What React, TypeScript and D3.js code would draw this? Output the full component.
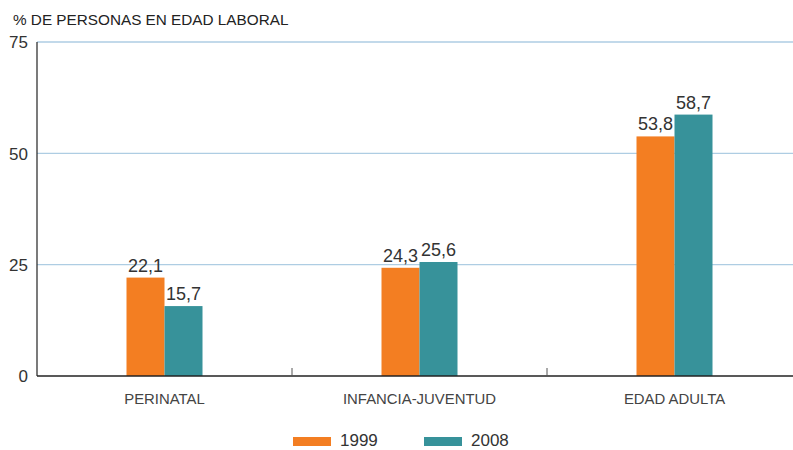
import React, { useEffect, useRef } from "react";
import * as d3 from "d3";

const categories = ["PERINATAL", "INFANCIA-JUVENTUD", "EDAD ADULTA"];
const years = ["1999", "2008"];
const values1999 = [22.1, 24.3, 53.8];
const values2008 = [15.7, 25.6, 58.7];
const yTicks = [0, 25, 50, 75];
const colors = ["#f37e22", "#37929a"];

const W = 793;
const H = 450;
const margin = { top: 42, right: -9, bottom: 74, left: 37 };

const App = () => {
  const ref = useRef<SVGSVGElement>(null);

  useEffect(() => {
    const svg = d3.select(ref.current);
    svg.selectAll("*").remove();
    const font = "'Liberation Sans', Arial, sans-serif";
    const innerH = H - margin.top - margin.bottom;

    const x = d3.scaleBand().domain(categories).range([margin.left, W - margin.right]);
    const inner = d3.scaleBand().domain(years).range([0, 76]);
    const y = d3.scaleLinear().domain([0, 75]).range([margin.top + innerH, margin.top]);

    svg.append("text")
      .attr("x", 13).attr("y", 25)
      .attr("font-family", font).attr("font-size", 15.3)
      .attr("fill", "#222")
      .text("% DE PERSONAS EN EDAD LABORAL");

    // gridlines
    svg.append("g").selectAll("line")
      .data(yTicks.filter(d => d > 0))
      .join("line")
      .attr("x1", margin.left).attr("x2", W)
      .attr("y1", d => y(d)).attr("y2", d => y(d))
      .attr("stroke", "#aecde3").attr("stroke-width", 1.3);

    // y tick labels
    svg.append("g").selectAll("text")
      .data(yTicks)
      .join("text")
      .attr("x", 28).attr("y", d => y(d))
      .attr("dy", "0.38em")
      .attr("text-anchor", "end")
      .attr("font-family", font).attr("font-size", 17)
      .attr("fill", "#333")
      .text(d => d);

    const series = [values1999, values2008];
    series.forEach((vals, si) => {
      const g = svg.append("g");
      g.selectAll("rect")
        .data(vals)
        .join("rect")
        .attr("x", (d, i) => (x(categories[i]) as number) + x.bandwidth() / 2 - 38 + (inner(years[si]) as number))
        .attr("width", inner.bandwidth())
        .attr("y", d => y(d))
        .attr("height", d => y(0) - y(d))
        .attr("fill", colors[si]);
      g.selectAll("text")
        .data(vals)
        .join("text")
        .attr("x", (d, i) => (x(categories[i]) as number) + x.bandwidth() / 2 - 38 + (inner(years[si]) as number) + inner.bandwidth() / 2)
        .attr("y", d => y(d) - 6)
        .attr("text-anchor", "middle")
        .attr("font-family", font).attr("font-size", 18)
        .attr("fill", "#333")
        .text(d => d3.format(".1f")(d).replace(".", ","));
    });

    // axes
    svg.append("line")
      .attr("x1", margin.left).attr("x2", margin.left)
      .attr("y1", margin.top).attr("y2", y(0))
      .attr("stroke", "#222").attr("stroke-width", 1.2);
    svg.append("line")
      .attr("x1", margin.left).attr("x2", W)
      .attr("y1", y(0)).attr("y2", y(0))
      .attr("stroke", "#222").attr("stroke-width", 1.5);
    svg.append("g").selectAll("line")
      .data(categories.slice(1))
      .join("line")
      .attr("x1", d => x(d) as number).attr("x2", d => x(d) as number)
      .attr("y1", y(0) - 8).attr("y2", y(0))
      .attr("stroke", "#555").attr("stroke-width", 1);

    svg.append("g").selectAll("text")
      .data(categories)
      .join("text")
      .attr("x", d => (x(d) as number) + x.bandwidth() / 2)
      .attr("y", 404)
      .attr("text-anchor", "middle")
      .attr("font-family", font).attr("font-size", 14.9)
      .attr("fill", "#444")
      .text(d => d);

    // legend
    const legendX = [293, 424];
    const lg = svg.append("g").selectAll("g")
      .data(years)
      .join("g")
      .attr("transform", (d, i) => `translate(${legendX[i]},0)`);
    lg.append("rect")
      .attr("x", 0).attr("y", 437).attr("width", 38).attr("height", 9)
      .attr("fill", (d, i) => colors[i]);
    lg.append("text")
      .attr("x", 47).attr("y", 446)
      .attr("font-family", font).attr("font-size", 17)
      .attr("fill", "#333")
      .text(d => d);
  }, []);

  return (
    <div style={{ position: "absolute", left: 0, top: 0 }}>
      <svg ref={ref} width={W} height={H} style={{ display: "block", background: "#fff" }} />
    </div>
  );
};

export default App;
